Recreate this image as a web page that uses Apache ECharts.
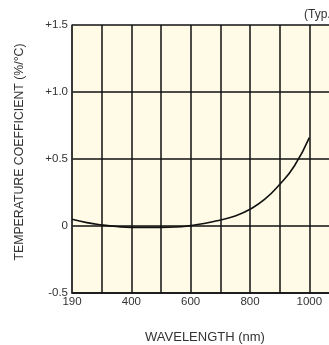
<!DOCTYPE html>
<html><head><meta charset="utf-8">
<script src="https://cdn.jsdelivr.net/npm/echarts@6/dist/echarts.min.js"></script>
<style>html,body{margin:0;padding:0;background:#fff}#c{width:329px;height:345px}</style>
</head><body><div id="c"></div>
<script>
var wavelengths = [200,250,300,350,400,450,500,550,600,650,700,750,800,850,900,950,1000];
var coefficients = [0.05,0.025,0.008,-0.004,-0.01,-0.01,-0.01,-0.008,0.003,0.02,0.045,0.075,0.125,0.2,0.31,0.45,0.66];
var xTickLabels = {200:'190',400:'400',600:'600',800:'800',1000:'1000'};
var yTickLabels = {'-0.5':'-0.5','0':'0','0.5':'+0.5','1':'+1.0','1.5':'+1.5'};
var xTitle = 'WAVELENGTH (nm)';
var yTitle = 'TEMPERATURE COEFFICIENT (%/°C)';
var note = '(Typ.)';

var chart = echarts.init(document.getElementById('c'), null, {renderer:'canvas'});
var font = 'Liberation Sans, Arial, sans-serif';
chart.setOption({
  animation:false,
  grid:{left:72, top:25, right:-10, bottom:52, show:true, backgroundColor:'#FFFBE6', borderWidth:0,
    containLabel:false, outerBoundsMode:'none'},
  xAxis:{type:'value', min:200, max:1100, interval:100,
    axisLine:{show:true, onZero:false, lineStyle:{color:'#111', width:1.5}},
    axisTick:{show:false},
    splitLine:{show:true, lineStyle:{color:'#111', width:1.5}},
    axisLabel:{color:'#333', fontSize:11.5, fontFamily:font, margin:3,
      formatter:function(v){return xTickLabels[v]||'';}}
  },
  yAxis:{type:'value', min:-0.5, max:1.5, interval:0.5,
    axisLine:{show:true, lineStyle:{color:'#333', width:1.5}},
    axisTick:{show:false},
    splitLine:{show:true, lineStyle:{color:'#111', width:1.5}},
    axisLabel:{color:'#333', fontSize:11.5, fontFamily:font, margin:4,
      formatter:function(v){return yTickLabels[String(v)]||'';}}
  },
  graphic:[
    {type:'text', x:205, y:337, style:{text:xTitle, fill:'#333', fontSize:13, fontFamily:font, align:'center', verticalAlign:'middle'}},
    {type:'text', x:20, y:152, rotation:Math.PI/2, style:{text:yTitle, fill:'#333', fontSize:12.3, fontFamily:font, align:'center', verticalAlign:'middle'}},
    {type:'text', x:304, y:15, style:{text:note, fill:'#333', fontSize:12, fontFamily:font, align:'left', verticalAlign:'middle'}}
  ],
  series:[{type:'line', smooth:true, symbol:'none',
    data:wavelengths.map(function(w,i){return [w, coefficients[i]];}),
    lineStyle:{color:'#111', width:1.6}}]
});
</script></body></html>
